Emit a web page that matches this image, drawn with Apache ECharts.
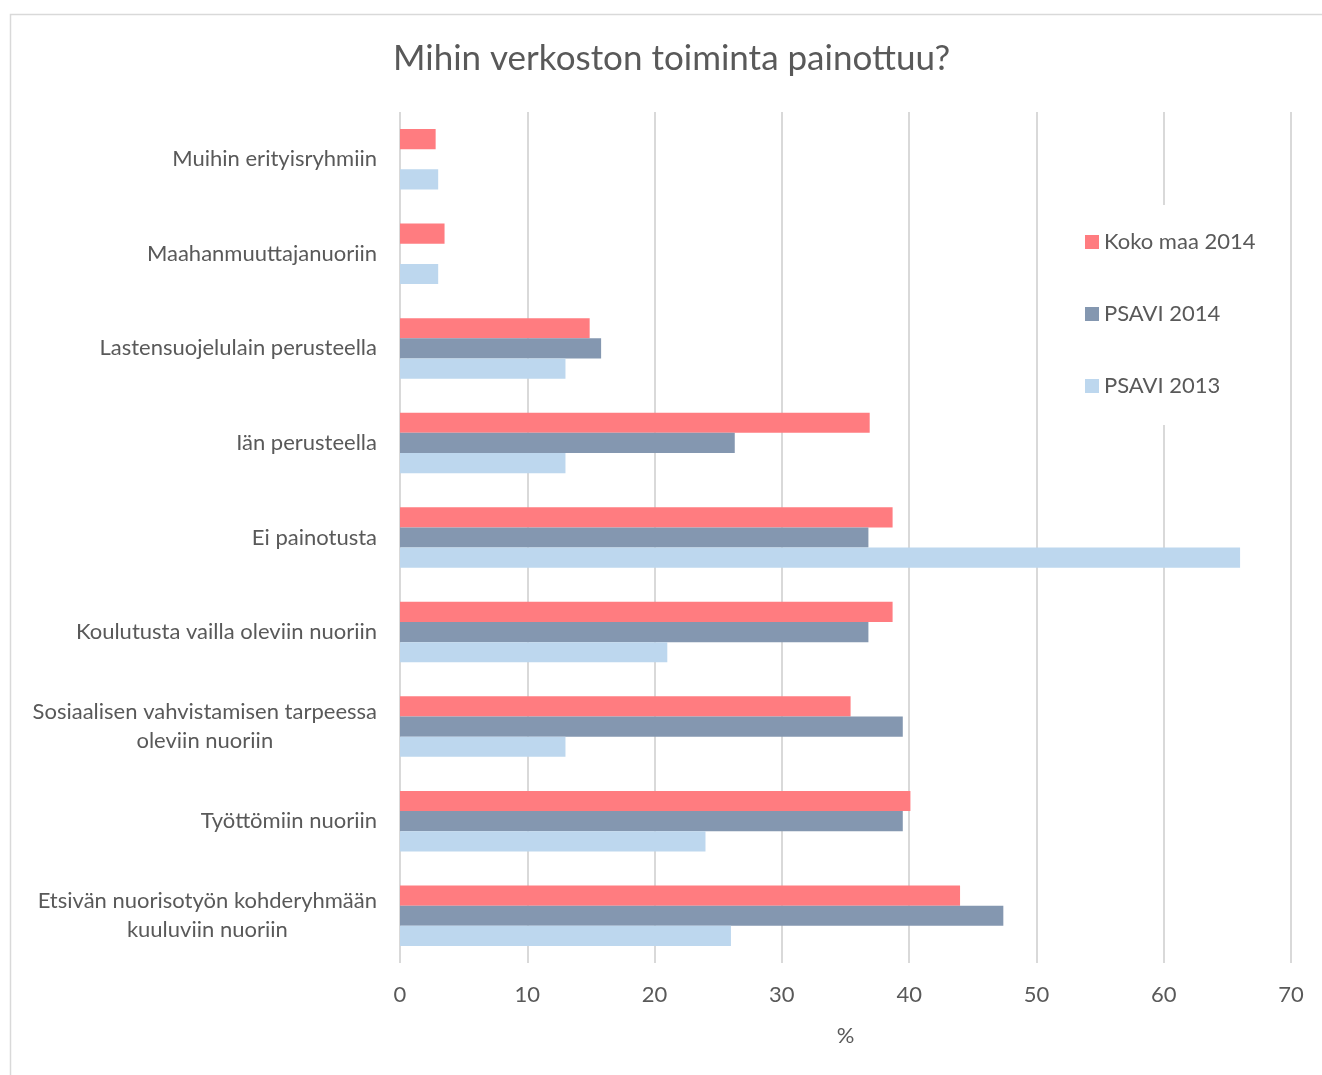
<!DOCTYPE html>
<html lang="fi">
<head>
<meta charset="UTF-8">
<title>Mihin verkoston toiminta painottuu?</title>
<script src="https://cdn.jsdelivr.net/npm/echarts@6/dist/echarts.min.js"></script>
<style>
    html, body { margin: 0; padding: 0; background: #fff; }
    #container { width: 1322px; height: 1075px; }
</style>
</head>
<body>
<div id="container"></div>
<script type="text/javascript">
    // kategoriat ylhäältä alas
    var categories = [
        'Muihin erityisryhmiin',
        'Maahanmuuttajanuoriin',
        'Lastensuojelulain perusteella',
        'Iän perusteella',
        'Ei painotusta',
        'Koulutusta vailla oleviin nuoriin',
        'Sosiaalisen vahvistamisen tarpeessa\noleviin nuoriin',
        'Työttömiin nuoriin',
        'Etsivän nuorisotyön kohderyhmään\nkuuluviin nuoriin'
    ];
    var kokoMaa2014 = [2.8, 3.5, 14.9, 36.9, 38.7, 38.7, 35.4, 40.1, 44.0];
    var psavi2014 = [null, null, 15.8, 26.3, 36.8, 36.8, 39.5, 39.5, 47.4];
    var psavi2013 = [3, 3, 13, 13, 66, 21, 13, 24, 26];
    var xTicks = [0, 10, 20, 30, 40, 50, 60, 70];

    var textColor = '#595959';
    var fontFam = 'Lato, "Open Sans", sans-serif';

    var dom = document.getElementById('container');
    var myChart = echarts.init(dom, null, { renderer: 'canvas' });

    var option = {
        animation: false,
        textStyle: { fontFamily: fontFam },
        title: {
            text: 'Mihin verkoston toiminta painottuu?',
            left: 388,
            top: 36,
            textStyle: { color: textColor, fontSize: 35, fontWeight: 'normal', fontFamily: fontFam }
        },
        // ulkoreunus
        graphic: [{
            type: 'rect',
            shape: { x: 10.5, y: 14.5, width: 1400, height: 1200 },
            style: { fill: 'none', stroke: '#d9d9d9', lineWidth: 1.5 },
            silent: true
        }],
        legend: {
            orient: 'vertical',
            left: 1076,
            top: 205,
            padding: [26, 14, 28, 9],
            backgroundColor: '#fff',
            itemWidth: 14,
            itemHeight: 14,
            itemGap: 50,
            icon: 'rect',
            textStyle: { color: textColor, fontSize: 22, fontFamily: fontFam },
            data: ['Koko maa 2014', 'PSAVI 2014', 'PSAVI 2013']
        },
        grid: {
            left: 400,
            right: 31,
            top: 112,
            bottom: 112,
            containLabel: false
        },
        xAxis: {
            type: 'value',
            min: 0,
            max: 70,
            interval: 10,
            name: '%',
            nameLocation: 'middle',
            nameGap: 62,
            nameTextStyle: { color: textColor, fontSize: 22 },
            axisLine: { show: false },
            axisTick: { show: false },
            axisLabel: {
                color: textColor,
                fontSize: 22,
                margin: 21,
                formatter: function (v) { return xTicks.indexOf(v) >= 0 ? String(v) : ''; }
            },
            splitLine: { show: true, lineStyle: { color: '#d9d9d9', width: 2 } }
        },
        yAxis: {
            type: 'category',
            inverse: true,
            data: categories,
            axisLine: { show: false },
            axisTick: { show: false },
            axisLabel: {
                margin: 23,
                color: textColor,
                fontSize: 22,
                lineHeight: 29,
                formatter: function (v) {
                    return v.split('\n').map(function (s) { return '{c|' + s + '}'; }).join('\n');
                },
                rich: {
                    c: { align: 'center', color: textColor, fontSize: 22, lineHeight: 29, fontFamily: fontFam }
                }
            }
        },
        series: [
            {
                name: 'Koko maa 2014',
                type: 'bar',
                barGap: 0,
                barCategoryGap: '36%',
                itemStyle: { color: '#ff7c80' },
                data: kokoMaa2014
            },
            {
                name: 'PSAVI 2014',
                type: 'bar',
                barGap: 0,
                barCategoryGap: '36%',
                itemStyle: { color: '#8497b0' },
                data: psavi2014
            },
            {
                name: 'PSAVI 2013',
                type: 'bar',
                barGap: 0,
                barCategoryGap: '36%',
                itemStyle: { color: '#bdd7ee' },
                data: psavi2013
            }
        ]
    };
    myChart.setOption(option);
    window.addEventListener('resize', myChart.resize);
</script>
</body>
</html>
